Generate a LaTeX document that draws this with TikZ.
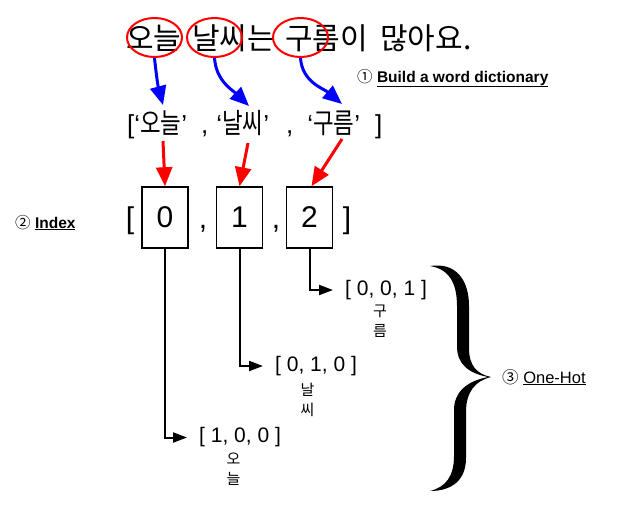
\documentclass[tikz,border=0pt]{standalone}
\usepackage{fontspec}
\setmainfont{Liberation Sans}
\newfontfamily\kr{Noto Sans CJK KR}
\newfontfamily\krn[FakeStretch=0.8]{Noto Sans CJK KR}
\usetikzlibrary{arrows.meta,positioning,shapes.geometric}
\begin{document}
\begin{tikzpicture}[x=1pt,y=-1pt,
    ring/.style={draw=red,line width=2pt,ellipse,minimum width=55pt,minimum height=39pt,inner sep=0pt},
    sword/.style={font=\kr\fontsize{30}{34}\selectfont,inner sep=0pt,anchor=west},
    bluearrow/.style={draw=blue,line width=3pt,-{Triangle[length=19pt,width=16pt]}},
    redarrow/.style={draw=red,line width=3pt,-{Triangle[length=19pt,width=16pt]}},
    idxbox/.style={draw,line width=1.5pt,minimum width=46pt,minimum height=61pt,inner sep=0pt,font=\fontsize{30}{36}\selectfont},
    elbow/.style={line width=2pt,-{Triangle[length=14pt,width=10pt]},shorten >=12pt},
    vec/.style={font=\fontsize{21}{25}\selectfont,inner sep=0pt,anchor=west},
    word/.style={font=\kr\fontsize{15}{20}\selectfont,align=center,inner sep=0pt},
    note/.style={font=\fontsize{15.5}{18}\selectfont,inner sep=0pt,anchor=base west}]
    \useasboundingbox (0,0) rectangle (620,509);

    % sentence and the picked words
    \node[sword] (s1) at (126,38) {오늘};
    \node[sword] (s2) at (192,38) {날씨는};
    \node[sword] (s3) at (285,38) {구름이};
    \node[sword] (s4) at (380,38) {많아요.};
    \node[ring] (e1) at (154.5,37.5) {};
    \node[ring] (e2) at (214.5,37.5) {};
    \node[ring] (e3) at (300.5,37.5) {};
    \node[note] (n1) at (357,82) {{\kr ①} \underline{\textbf{Build a word dictionary}}};

    % word list
    \node[font=\fontsize{26}{30}\selectfont,inner sep=0pt,anchor=base west] (list) at (127,133)
        {[‘{\krn\fontsize{28}{30}\selectfont 오늘}’\hspace{14pt},\hspace{8pt}‘{\krn\fontsize{28}{30}\selectfont 날씨}’\hspace{17pt},\hspace{14pt}‘{\krn\fontsize{28}{30}\selectfont 구름}’\hspace{15pt}]};
    \coordinate (t1) at (163,105);
    \coordinate (t2) at (249,106);
    \coordinate (t3) at (342,104);
    \draw[bluearrow] (e1.south) to[out=-84,in=105] (t1);
    \draw[bluearrow] (e2.south) to[out=-86,in=136] (t2);
    \draw[bluearrow] (e3.south) to[out=-86,in=140] (t3);

    % index boxes
    \node[font=\fontsize{30}{36}\selectfont,inner sep=0pt,anchor=base] (lbr) at (130,228) {[};
    \node[idxbox] (b0) at (165,217.5) {0};
    \node[font=\fontsize{30}{36}\selectfont,inner sep=0pt,anchor=base] (c1) at (203,228) {,};
    \node[idxbox] (b1) at (239.5,217.5) {1};
    \node[font=\fontsize{30}{36}\selectfont,inner sep=0pt,anchor=base] (c2) at (276,228) {,};
    \node[idxbox] (b2) at (309.5,217.5) {2};
    \node[font=\fontsize{30}{36}\selectfont,inner sep=0pt,anchor=base] (rbr) at (347,228) {]};
    \node[note] (n2) at (15,228) {{\kr ②} \underline{\textbf{Index}}};
    \coordinate (r1) at (163,141);
    \coordinate (r2) at (248,143);
    \coordinate (r3) at (342,139);
    \draw[redarrow] (r1) -- (b0.north);
    \draw[redarrow] (r2) -- (b1.north);
    \draw[redarrow] (r3) -- ([xshift=2pt]b2.north);

    % one-hot vectors
    \node[vec] (v2) at (345,290) {[ 0, 0, 1 ]};
    \node[vec] (v1) at (275,366) {[ 0, 1, 0 ]};
    \node[vec] (v0) at (199,437.5) {[ 1, 0, 0 ]};
    \node[word] (w2) at (380,321.5) {구\\름};
    \node[word] (w1) at (307.5,399.5) {날\\씨};
    \node[word] (w0) at (233.5,469.5) {오\\늘};
    \draw[elbow] (b2.south) |- (v2.west);
    \draw[elbow] (b1.south) |- (v1.west);
    \draw[elbow] (b0.south) |- (v0.west);

    % brace
    \fill (430,266) .. controls (456,262) and (469,280) .. (469,306) -- (469,348)
        .. controls (469,366) and (477,374) .. (491,377)
        .. controls (475,381) and (466,392) .. (466,412) -- (466,458)
        .. controls (466,480) and (452,491) .. (430,491)
        .. controls (446,487) and (454,476) .. (454,456) -- (454,410)
        .. controls (454,392) and (467,381) .. (488,377)
        .. controls (468,373) and (457,364) .. (457,346) -- (457,306)
        .. controls (457,283) and (449,269) .. (430,266) -- cycle;
    \node[note,font=\fontsize{16.5}{19}\selectfont] (n3) at (502,383) {{\kr ③} \underline{One-Hot}};
\end{tikzpicture}
\end{document}
